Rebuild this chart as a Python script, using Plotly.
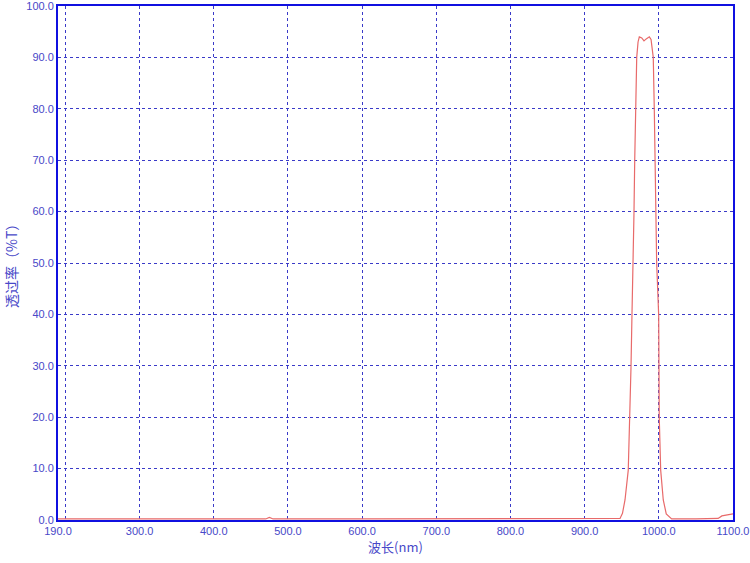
import plotly.graph_objects as go

# wavelength (nm) and transmittance (%T)
wavelength = [190, 300, 400, 470, 475, 480, 600, 800, 940, 947.7, 951, 954.4,
              958.8, 961.1, 962.5, 963.8, 965.6, 966.5, 967.5, 968.8, 970.2,
              972, 973.7, 977, 980, 983, 987.2, 989.5, 992.5, 993.9, 995.2,
              996.2, 997.1, 999.8, 1000.2, 1000.6, 1002.5, 1006, 1010, 1017.3,
              1050, 1080, 1085, 1090, 1095, 1100]
transmittance = [0.2, 0.2, 0.2, 0.2, 0.5, 0.2, 0.2, 0.2, 0.2, 0.3, 1.3, 3.9,
                 9.7, 19.8, 29.8, 39.9, 50, 59.7, 70, 79.8, 90,
                 93, 94, 93.8, 93.2, 93.6, 94, 93.5, 90, 79.8, 70,
                 59.7, 50, 39.9, 29.8, 19.8, 9.7, 3.9, 1.2, 0.2,
                 0.2, 0.3, 0.8, 0.9, 1.0, 1.2]

x_ticks = [190, 300, 400, 500, 600, 700, 800, 900, 1000, 1100]
y_ticks = [0, 10, 20, 30, 40, 50, 60, 70, 80, 90, 100]

axis_blue = "#1010e0"
grid_blue = "#3a3ac8"
label_blue = "#4848c8"

fig = go.Figure()
fig.add_trace(go.Scatter(x=wavelength, y=transmittance, mode="lines",
                         line=dict(color="#e86a6a", width=1.2),
                         showlegend=False, hoverinfo="x+y"))

fig.update_layout(
    width=750, height=563,
    margin=dict(l=58, r=17, t=6, b=43),
    paper_bgcolor="white", plot_bgcolor="white",
    font=dict(family="Liberation Sans, Arial, sans-serif", size=11, color=label_blue),
    xaxis=dict(
        range=[190, 1100], tickmode="array", tickvals=x_ticks,
        ticktext=[f"{v:.1f}" for v in x_ticks], automargin=False,
        ticklabeloverflow="allow",
        showgrid=True, gridcolor=grid_blue, griddash="dot", gridwidth=1,
        minor=dict(tick0=200, dtick=100, showgrid=True, gridcolor=grid_blue,
                   griddash="dot", gridwidth=1, ticks=""),
        showline=True, linecolor=axis_blue, linewidth=2, mirror=True,
        ticks="", zeroline=False, layer="below traces",
        title=dict(text="波长(nm)", font=dict(family="Noto Sans CJK SC", size=13, color=label_blue),
                   standoff=2),
    ),
    yaxis=dict(
        range=[0, 100], tickmode="array", tickvals=y_ticks,
        ticktext=[f"{v:.1f}" for v in y_ticks], automargin=False,
        ticklabeloverflow="allow",
        showgrid=True, gridcolor=grid_blue, griddash="dot", gridwidth=1,
        showline=True, linecolor=axis_blue, linewidth=2, mirror=True,
        ticks="", zeroline=False, layer="below traces",
    ),
    annotations=[dict(text="透过率（%T）", xref="paper", yref="paper", x=0, y=0.5,
                      xshift=-47, textangle=-90, showarrow=False,
                      xanchor="center", yanchor="middle",
                      font=dict(family="Noto Sans CJK SC", size=14, color=label_blue))],
)

fig.write_html("out.html", config={"displayModeBar": False},
               post_script="document.body.style.margin='0';document.body.style.overflow='hidden';")
